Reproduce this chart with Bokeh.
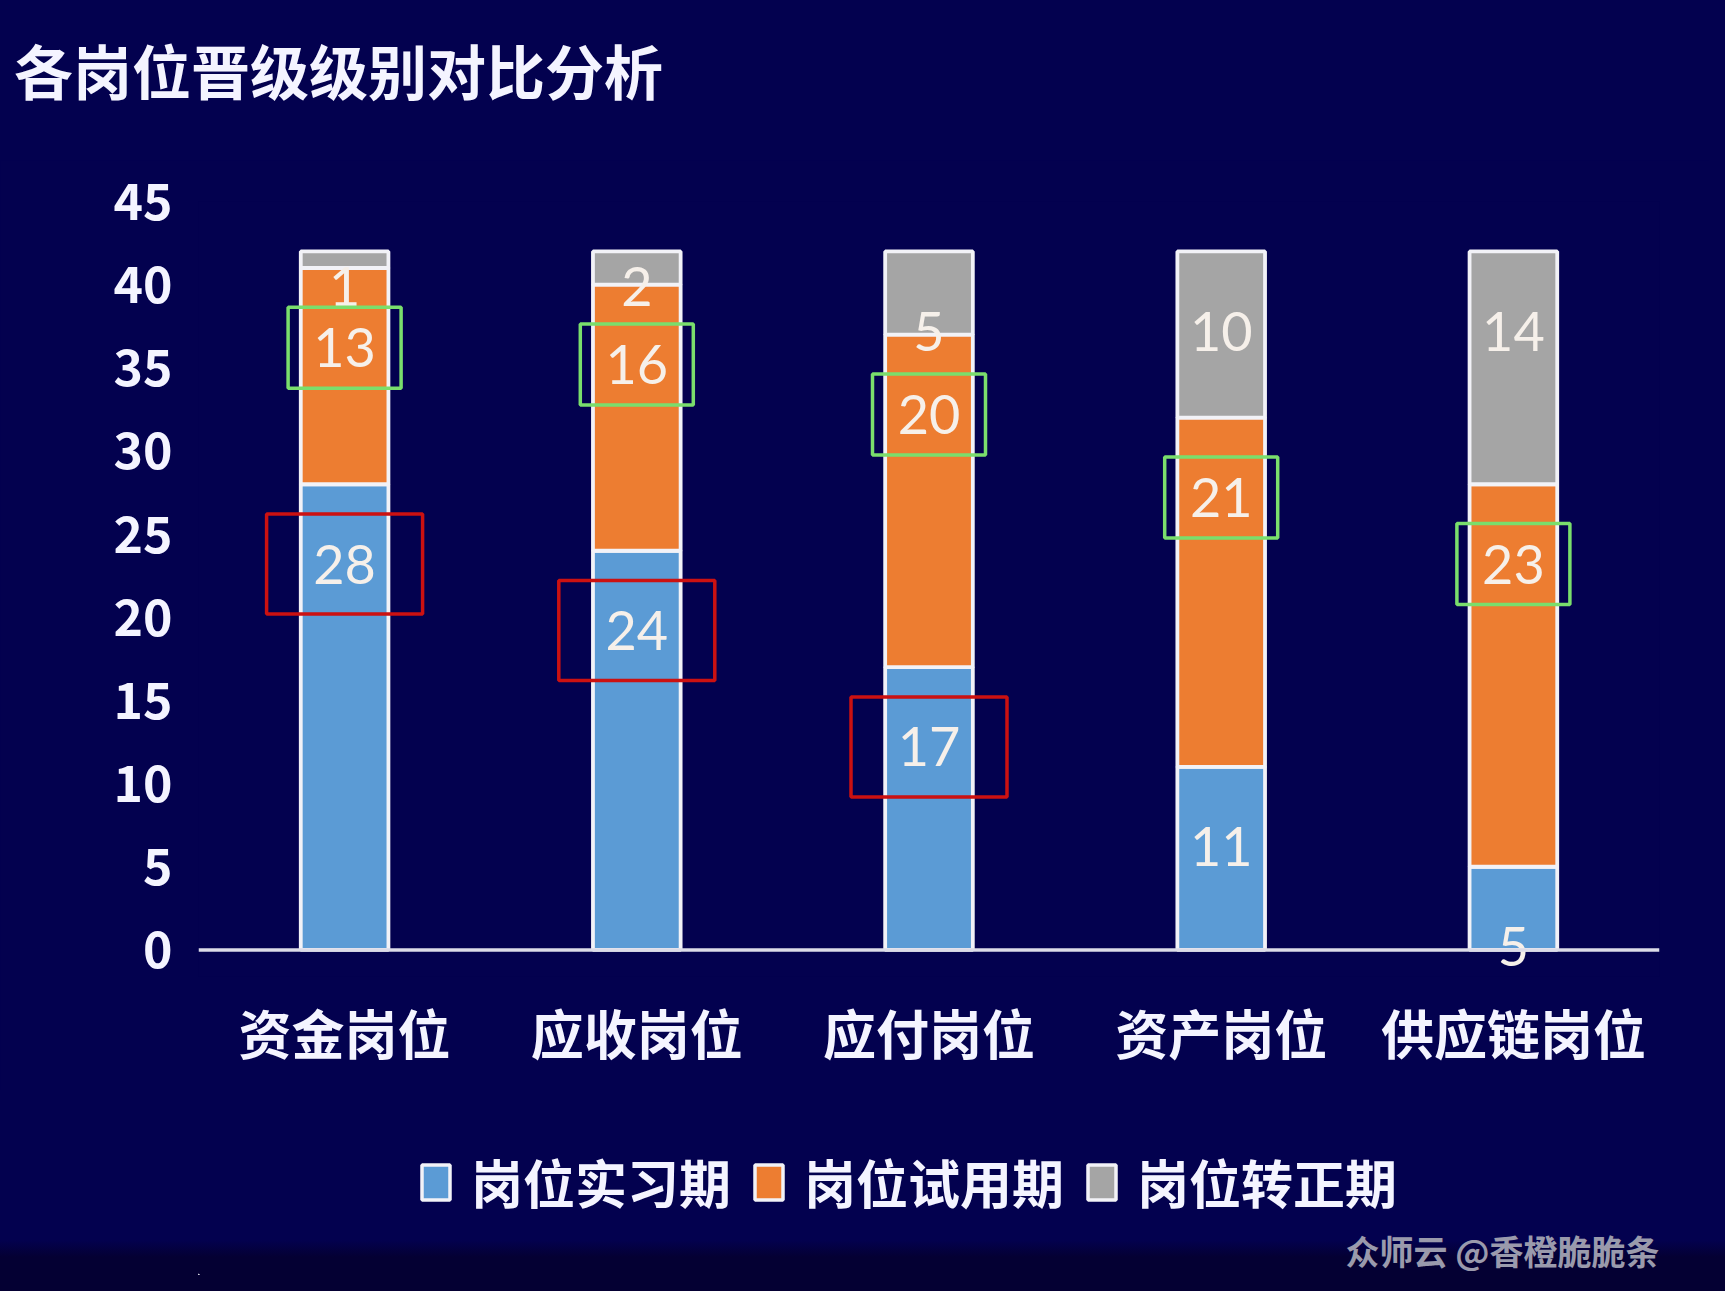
from bokeh.plotting import figure
from bokeh.layouts import column
from bokeh.models import (ColumnDataSource, FactorRange, Range1d, FixedTicker,
                          Span, Label, Legend, LegendItem, Div)
from bokeh.core.properties import value
from bokeh.embed import file_html
from bokeh.resources import INLINE
try:
    from bokeh.models import GlobalInlineStyleSheet
except ImportError:
    GlobalInlineStyleSheet = None

# ---------------- data ----------------
categories = ["资金岗位", "应收岗位", "应付岗位", "资产岗位", "供应链岗位"]
intern = [28, 24, 17, 11, 5]        # 岗位实习期
probation = [13, 16, 20, 21, 23]    # 岗位试用期
regular = [1, 2, 5, 10, 14]         # 岗位转正期
series_names = ["岗位实习期", "岗位试用期", "岗位转正期"]
y_ticks = [0, 5, 10, 15, 20, 25, 30, 35, 40, 45]
title_text = "各岗位晋级级别对比分析"
watermark_text = "众师云 @香橙脆脆条"
red_marked = ["资金岗位", "应收岗位", "应付岗位"]
green_marked = ["资金岗位", "应收岗位", "应付岗位", "资产岗位", "供应链岗位"]

# ---------------- style ----------------
BG = "#03014f"
BG_DARK = "#040033"
COLORS = ["#5b9bd5", "#ed7d31", "#a5a5a5"]
OUTLINE = "#f2f2f7"
TXT = "#f4f4ff"
CJK = "Noto Sans CJK SC"
LABEL_DROP = 4.8
SMALL_DROP = 2.1
W = 1709
H_T, H_A, H_B = 160, 930, 185
FRAME_W = 1461

# ---------------- title (HTML block) ----------------
t = Div(text=f'<div style="padding-left:14px;line-height:140px;white-space:nowrap;">{title_text}</div>',
        width=W, height=H_T, margin=0,
        styles={"background-color": BG, "color": TXT, "font-family": f"'{CJK}'",
                "font-size": "59px", "font-weight": "bold", "overflow": "hidden"})

# ---------------- chart ----------------
src = ColumnDataSource(dict(cat=categories, s0=intern, s1=probation, s2=regular))
p = figure(x_range=FactorRange(factors=categories), y_range=Range1d(-1.6, 45),
           width=W, height=H_A, output_backend="svg", toolbar_location=None, title=None,
           min_border_left=198, min_border_right=50, min_border_top=41,
           min_border_bottom=114)
p.background_fill_color = BG
p.border_fill_color = BG
p.outline_line_color = None
p.xgrid.grid_line_color = None
p.ygrid.grid_line_color = None

renderers = p.vbar_stack(["s0", "s1", "s2"], x="cat", width=0.30, source=src,
                         fill_color=COLORS, line_color=OUTLINE, line_width=3.8)

p.add_layout(Span(location=0, dimension="width", line_color="#dcdce8", line_width=3.5))

series = [intern, probation, regular]
cum = [0] * len(categories)
label_pos = []
for vals in series:
    ys = []
    for j, v in enumerate(vals):
        cum[j] += v
        ys.append(cum[j] - (LABEL_DROP if v > 2 else SMALL_DROP))
    label_pos.append(ys)
    p.text(x=categories, y=ys, text=[str(v) for v in vals],
           text_align="center", text_baseline="middle",
           text_font=value("Lato"), text_font_size="54px", text_color="#f6f0ea")

rx = [c for c in categories if c in red_marked]
ry = [label_pos[0][categories.index(c)] for c in rx]
p.rect(x=rx, y=ry, width=156, height=100, width_units="screen", height_units="screen",
       fill_color=None, line_color="#cc1111", line_width=3.5)
gx = [c for c in categories if c in green_marked]
gy = [label_pos[1][categories.index(c)] for c in gx]
p.rect(x=gx, y=gy, width=113, height=81, width_units="screen", height_units="screen",
       fill_color=None, line_color="#7ade6c", line_width=3.5)

p.yaxis.ticker = FixedTicker(ticks=y_ticks)
p.yaxis.axis_line_color = None
p.yaxis.major_tick_line_color = None
p.yaxis.minor_tick_line_color = None
p.yaxis.major_tick_out = 0
p.yaxis.major_label_standoff = 26
p.yaxis.major_label_text_font = CJK
p.yaxis.major_label_text_font_style = "bold"
p.yaxis.major_label_text_font_size = "50px"
p.yaxis.major_label_text_color = TXT

p.xaxis.axis_line_color = None
p.xaxis.major_tick_line_color = None
p.xaxis.major_tick_out = 0
p.xaxis.major_label_standoff = 17
p.xaxis.major_label_text_font = CJK
p.xaxis.major_label_text_font_style = "bold"
p.xaxis.major_label_text_font_size = "53px"
p.xaxis.major_label_text_color = TXT

# ---------------- legend + watermark strip ----------------
# (its frame is aligned with the chart's frame by the column layout; transparent so the
#  page's darker bottom band shows through)
b = figure(width=W, height=H_B, x_range=Range1d(0, FRAME_W), y_range=Range1d(0, H_B),
           output_backend="svg", toolbar_location=None, title=None,
           x_axis_type=None, y_axis_type=None, min_border=0)
b.background_fill_alpha = 0
b.border_fill_alpha = 0
b.outline_line_color = None
b.grid.visible = False

# legend proxies (placed far outside the view, only used for the legend swatches)
proxies = [b.vbar(x=[-1000], top=[-1000], bottom=-1100, width=1, fill_color=c,
                  line_color=OUTLINE, line_width=3.5)
           for c in COLORS]
legend = Legend(items=[LegendItem(label=n, renderers=[r]) for n, r in zip(series_names, proxies)],
                orientation="horizontal", location=(220, 56),
                label_text_font=CJK, label_text_font_style="bold", label_text_font_size="52px",
                label_text_color=TXT, glyph_width=35, glyph_height=44, label_height=44,
                label_standoff=18, spacing=20, padding=0, margin=0,
                border_line_color=None, background_fill_alpha=0)
b.add_layout(legend, "center")
b.add_layout(Label(x=FRAME_W, y=25, text=watermark_text, text_font=CJK, text_font_style="bold",
                   text_font_size="34px", text_color="#9a9aac", text_align="right",
                   text_baseline="middle"))

kw = {}
if GlobalInlineStyleSheet is not None:
    css = (f"html {{ min-height: 100%; background-color: {BG_DARK}; "
           f"background-image: linear-gradient(to bottom, {BG} 0px, {BG} 1240px, {BG_DARK} 1257px); "
           f"background-repeat: no-repeat; }} body {{ background: transparent; }}")
    kw["stylesheets"] = [GlobalInlineStyleSheet(css=css)]
layout = column(t, p, b, spacing=0, **kw)
open("out.html", "w").write(file_html(layout, INLINE))
